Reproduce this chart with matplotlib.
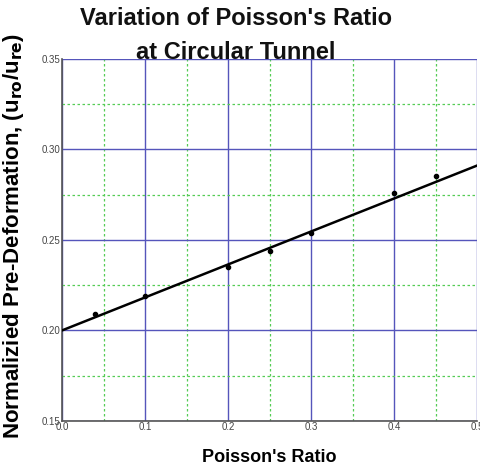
import numpy as np
import matplotlib
matplotlib.use("Agg")
import matplotlib.pyplot as plt
from matplotlib.ticker import MultipleLocator

# measured points
poisson = [0.04, 0.10, 0.20, 0.25, 0.30, 0.40, 0.45]
ratio = [0.209, 0.219, 0.235, 0.244, 0.254, 0.276, 0.285]

# fitted trend line end points
fit_x = [0.0, 0.5]
fit_y = [0.200, 0.291]

plt.rcParams["font.family"] = ["Liberation Sans", "DejaVu Sans"]

fig = plt.figure(figsize=(4.81, 4.67), dpi=100)
ax = fig.add_axes([0.129, 0.0985, 0.863, 0.776])

ax.set_xlim(0, 0.5)
ax.set_ylim(0.15, 0.35)
ax.xaxis.set_major_locator(MultipleLocator(0.1))
ax.xaxis.set_minor_locator(MultipleLocator(0.05))
ax.yaxis.set_major_locator(MultipleLocator(0.05))
ax.yaxis.set_minor_locator(MultipleLocator(0.025))
ax.xaxis.set_major_formatter(plt.FormatStrFormatter("%.1f"))
ax.yaxis.set_major_formatter(plt.FormatStrFormatter("%.2f"))

ax.grid(which="major", color="#5555bb", linestyle="-", linewidth=1.0)
ax.grid(which="minor", color="#55cc55", linestyle=(0, (2, 2)), linewidth=0.9)
ax.set_axisbelow(True)

for side in ["top", "right"]:
    ax.spines[side].set_visible(False)
for side in ["left", "bottom"]:
    ax.spines[side].set_color("#555555")
    ax.spines[side].set_linewidth(1.2)

ax.tick_params(which="both", length=0, labelsize=7, colors="#444444", pad=1)

ax.plot(fit_x, fit_y, color="black", linewidth=1.8, zorder=3)
ax.plot(poisson, ratio, "o", color="black", markersize=3, zorder=4)

ax.set_xlabel("Poisson's Ratio", fontsize=13, fontweight="bold", labelpad=12)
ax.set_ylabel("Normalizied Pre-Deformation, (u$_{\\mathbf{ro}}$/u$_{\\mathbf{re}}$)",
              fontsize=16, fontweight="bold")
ax.yaxis.set_label_coords(-0.088, 0.51)

fig.text(0.49, 0.985, "Variation of Poisson's Ratio\nat Circular Tunnel",
         ha="center", va="top", fontsize=17, fontweight="bold",
         linespacing=1.6, color="#111111")

fig.savefig("out.png", dpi=100)
